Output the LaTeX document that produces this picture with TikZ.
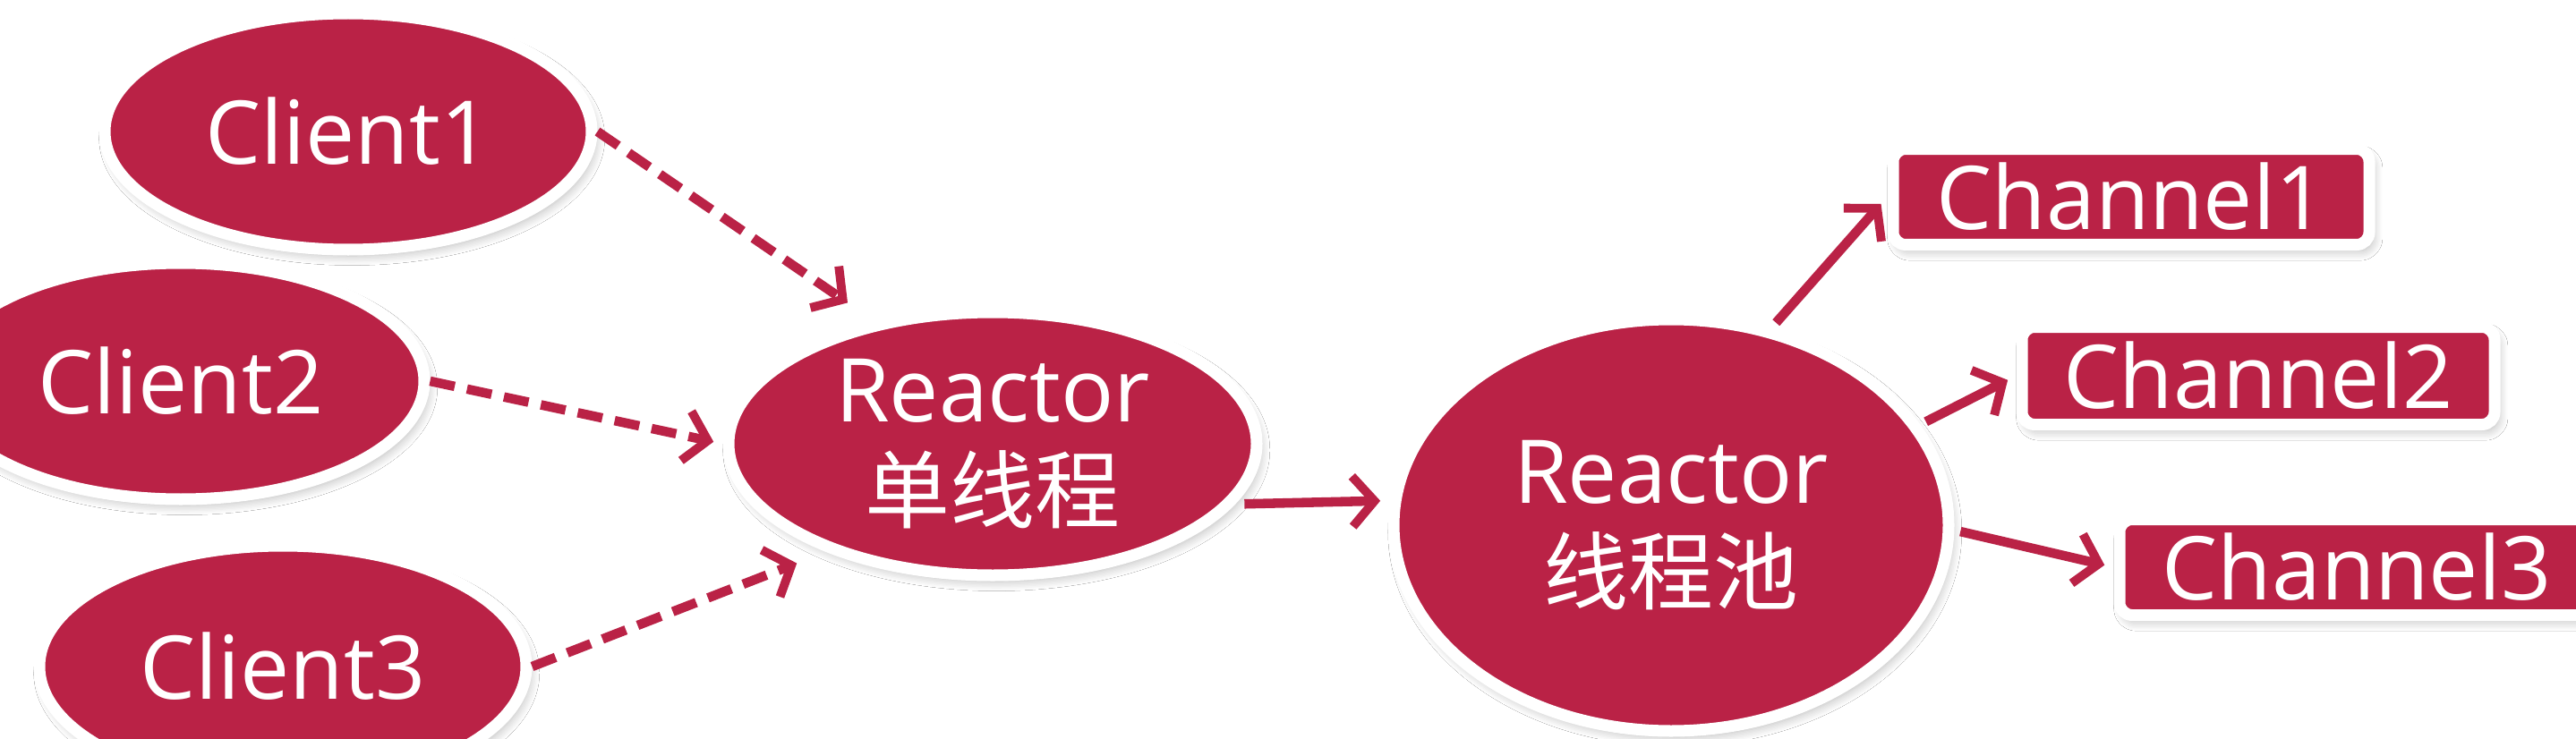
\documentclass[tikz,border=0pt]{standalone}
\usepackage{fontspec}
\setmainfont{Open Sans}
\newfontfamily\cjk[Scale=0.965]{Noto Sans CJK SC}
\usetikzlibrary{positioning}
\usetikzlibrary{shapes.geometric}
\usetikzlibrary{arrows.meta}
\usetikzlibrary{shadows.blur}
\definecolor{reactorred}{RGB}{186,34,70}
\tikzset{
	every node/.style = {font=\fontsize{28}{32}\selectfont, text=white}
}
\tikzset{
	softshadow/.style = {blur shadow={shadow blur steps=8, shadow xshift=1.2pt, shadow yshift=-2pt, shadow blur radius=3pt, shadow opacity=28}},
	blob/.style = {ellipse, fill=reactorred, draw=white, line width=3.7pt, align=center, inner sep=0pt, softshadow},
	chanbox/.style = {rectangle, rounded corners=4pt, fill=reactorred, draw=white, line width=3.7pt, inner sep=0pt, softshadow},
	link/.style = {draw=reactorred, line width=3pt, -{Straight Barb[length=7pt,width=16pt,line width=2.8pt]}},
	dashlink/.style = {link, dash pattern=on 8pt off 4pt}
}

\begin{document}
\begin{tikzpicture}
        % picture frame, 1cm = 100px of the reference
        \fill[white] (0,0) rectangle (28.78,-8.26);
        \useasboundingbox (0,0) rectangle (28.78,-8.26);

        % clients on the left
        \node[blob, minimum width=5.44cm, minimum height=2.64cm] (c1) at (3.89,-1.47) {Client1};
        \node[blob, minimum width=5.44cm, minimum height=2.64cm] (c2) at (2.02,-4.26) {Client2};
        \node[blob, minimum width=5.44cm, minimum height=2.70cm] (c3) at (3.16,-7.45) {Client3};

        % the two reactors
        \node[blob, minimum width=5.90cm, minimum height=2.94cm] (r1) at (11.09,-4.96) {Reactor\\{\cjk 单线程}};
        \node[blob, minimum width=6.20cm, minimum height=4.60cm] (r2) at (18.67,-5.87) {Reactor\\{\cjk 线程池}};

        % channels on the right
        \node[chanbox, minimum width=5.32cm, minimum height=1.07cm] (ch1) at (23.81,-2.20) {Channel1};
        \node[chanbox, minimum width=5.28cm, minimum height=1.09cm] (ch2) at (25.23,-4.20) {Channel2};
        \node[chanbox, minimum width=5.30cm, minimum height=1.07cm] (ch3) at (26.33,-6.34) {Channel3};

        % connections
        \draw[dashlink, shorten >=10pt] (c1.east) -- (r1.134);
        \draw[dashlink, shorten >=3pt] (c2.east) -- (r1.west);
        \draw[dashlink, shorten >=10pt] (c3.east) -- (r1.213);
        \draw[link, shorten >=3pt, shorten <=3pt] (r1.-14) -- (r2.175);
        \draw[link, shorten >=3pt, shorten <=2pt] (r2.63) -- (ch1.west);
        \draw[link, shorten >=3pt, shorten <=2pt] (r2.22) -- (ch2.west);
        \draw[link, shorten >=3pt, shorten <=2pt] (r2.-1) -- (ch3.west);
\end{tikzpicture}
\end{document}
